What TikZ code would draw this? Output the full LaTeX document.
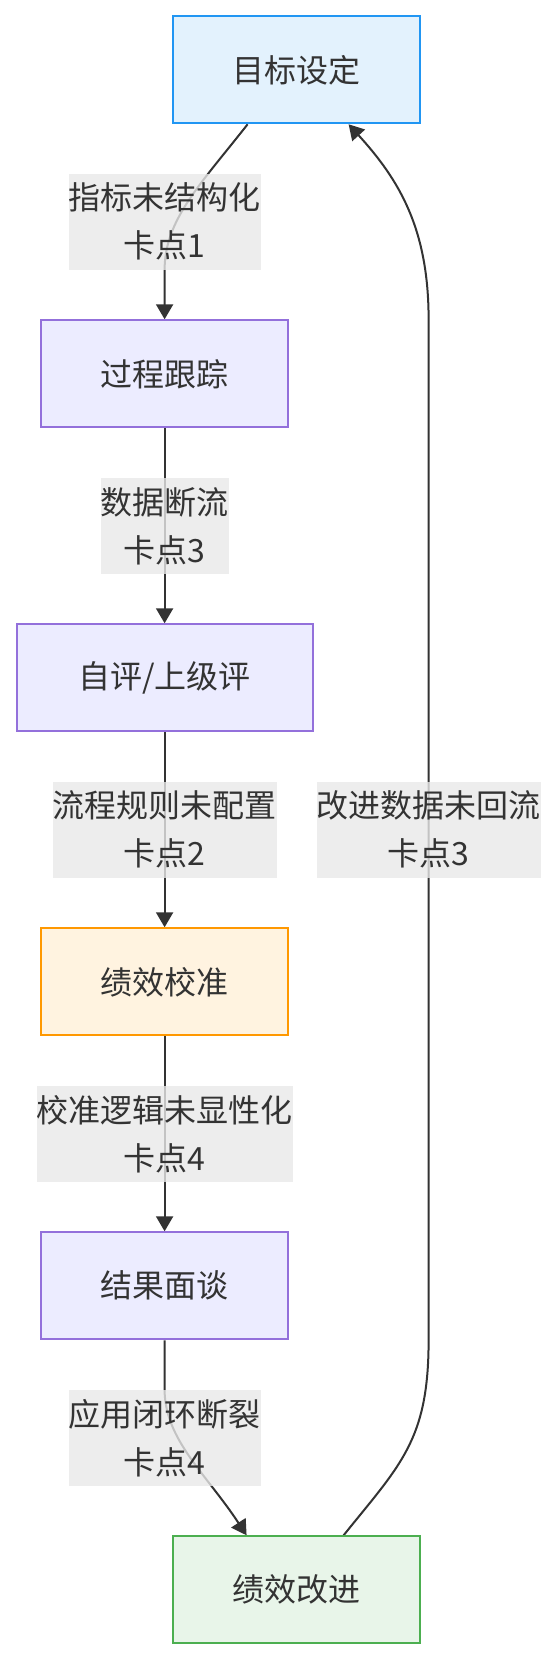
\documentclass[tikz,border=0pt]{standalone}
\usepackage{fontspec}
\setmainfont{Noto Sans CJK SC}
\usetikzlibrary{arrows.meta, positioning, calc, backgrounds}
\definecolor{ink}{HTML}{333333}
\definecolor{bluefill}{HTML}{E3F2FD}
\definecolor{blueline}{HTML}{2196F3}
\definecolor{purplefill}{HTML}{ECECFF}
\definecolor{purpleline}{HTML}{9370DB}
\definecolor{orangefill}{HTML}{FFF3E0}
\definecolor{orangeline}{HTML}{FF9800}
\definecolor{greenfill}{HTML}{E8F5E9}
\definecolor{greenline}{HTML}{4CAF50}
\definecolor{cutgray}{HTML}{E8E8E8}
\begin{document}
\begin{tikzpicture}[
  x=1pt, y=-1pt,
  font=\fontsize{32}{48}\selectfont, text=ink,
  stage/.style={draw=purpleline, fill=purplefill, line width=2pt, align=center, minimum width=247pt, minimum height=107pt},
  cut/.style={fill=cutgray, fill opacity=0.8, text opacity=1, align=center, inner xsep=0pt, inner ysep=0pt, minimum height=96pt},
  arrow/.style={-{Triangle[length=15pt,width=17pt]}, line width=2pt, draw=ink}
]
\useasboundingbox (0,0) rectangle (556,1660);
\node[stage, draw=blueline, fill=bluefill] (goal) at (296.6,69.8) {目标设定};
\node[stage, below=195pt of goal, xshift=-132pt] (track) {过程跟踪};
\node[stage, below=195pt of track, minimum width=296pt] (eval) {自评/上级评};
\node[stage, below=195pt of eval, draw=orangeline, fill=orangefill] (calib) {绩效校准};
\node[stage, below=195pt of calib] (talk) {结果面谈};
\node[stage, below=195pt of talk, xshift=132pt, draw=greenline, fill=greenfill] (improve) {绩效改进};

\node[cut] (cut1) at ($(track.north)!.5!(track.north |- goal.south)$) {指标未结构化\\卡点1};
\node[cut] (cut2) at ($(track.south)!.5!(eval.north)$) {数据断流\\卡点3};
\node[cut] (cut3) at ($(eval.south)!.5!(calib.north)$) {流程规则未配置\\卡点2};
\node[cut] (cut4) at ($(calib.south)!.5!(talk.north)$) {校准逻辑未显性化\\卡点4};
\node[cut] (cut5) at ($(talk.south)!.5!(talk.south |- improve.north)$) {应用闭环断裂\\卡点4};
\node[cut, xshift=264pt] (back) at ($(eval.south)!.5!(calib.north)$) {改进数据未回流\\卡点3};

\begin{scope}[on background layer]
\draw[arrow] ([xshift=-49pt]goal.south) .. controls +(-48,61) and +(0,-50) .. (cut1.south) -- (track.north);
\draw[arrow] (track) -- (eval);
\draw[arrow] (eval) -- (calib);
\draw[arrow] (calib) -- (talk);
\draw[arrow] (talk.south) -- (cut5.north) .. controls +(0,50) and +(-40,-61) .. ([xshift=-50pt]improve.north);
\draw[arrow] ([xshift=47pt]improve.north) .. controls +(57,-71) and +(0,100) .. (back |- talk.south) -- (back |- track.north) .. controls +(0,-90) and +(51,56) .. ([xshift=52pt]goal.south);
\end{scope}
\end{tikzpicture}
\end{document}
